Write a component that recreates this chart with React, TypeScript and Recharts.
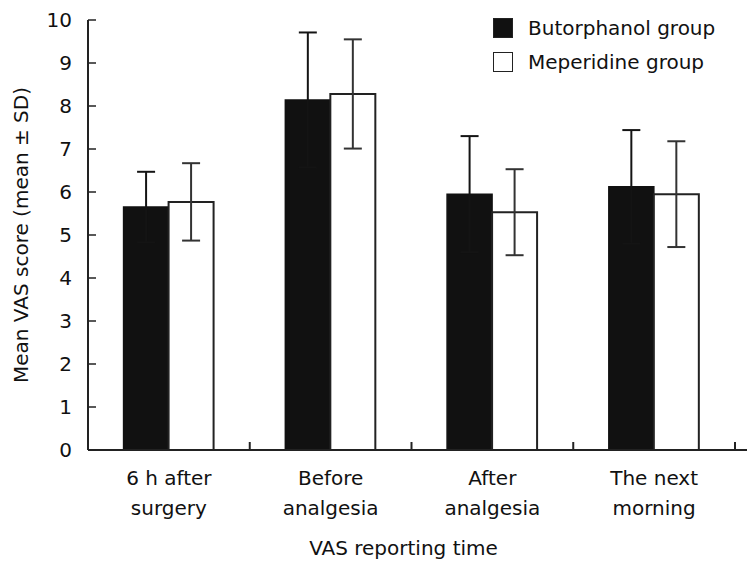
import { BarChart, Bar, XAxis, YAxis, ErrorBar, Legend } from "recharts";

// VAS reporting time points
const timePoints = [
  "6 h after\nsurgery",
  "Before\nanalgesia",
  "After\nanalgesia",
  "The next\nmorning",
];

// mean VAS and SD per group
const butorphanolMean = [5.65, 8.14, 5.95, 6.12];
const butorphanolSD = [0.82, 1.57, 1.35, 1.32];
const meperidineMean = [5.77, 8.28, 5.53, 5.95];
const meperidineSD = [0.9, 1.27, 1.0, 1.23];

const yTicks = [0, 1, 2, 3, 4, 5, 6, 7, 8, 9, 10];

const data = timePoints.map((t, i) => ({
  time: t,
  butorphanol: butorphanolMean[i],
  butorphanolSD: butorphanolSD[i],
  meperidine: meperidineMean[i],
  meperidineSD: meperidineSD[i],
}));

const FONT = "'DejaVu Sans', Verdana, sans-serif";
const INK = "#222";
const W = 750;
const H = 567;
const LEFT = 88;
const RIGHT_PAD = 12;
const PLOT_RIGHT = 747;
const HALF_BAND = (PLOT_RIGHT - RIGHT_PAD - LEFT) / timePoints.length / 2;

const XTick = (props: any) => {
  const { x, y, payload } = props;
  const lines = String(payload.value).split("\n");
  return (
    <g>
      <line
        x1={x + HALF_BAND}
        x2={x + HALF_BAND}
        y1={y}
        y2={y - 8}
        stroke={INK}
        strokeWidth={2}
      />
      <text
        x={x}
        y={y}
        textAnchor="middle"
        fontFamily={FONT}
        fontSize={20}
        fill="#111"
      >
        {lines.map((l, i) => (
          <tspan key={i} x={x} y={y + 35 + i * 30}>
            {l}
          </tspan>
        ))}
      </text>
    </g>
  );
};

const YLabel = (props: any) => {
  const { viewBox } = props;
  const cx = viewBox.x + 21;
  const cy = viewBox.y + viewBox.height / 2;
  return (
    <text
      x={cx}
      y={cy}
      transform={`rotate(-90, ${cx}, ${cy})`}
      textAnchor="middle"
      dominantBaseline="central"
      fontFamily={FONT}
      fontSize={20}
      fill="#111"
    >
      Mean VAS score (mean ± SD)
    </text>
  );
};

const XLabel = (props: any) => {
  const { viewBox } = props;
  return (
    <text
      x={viewBox.x + viewBox.width / 2 - 14}
      y={viewBox.y + 105}
      textAnchor="middle"
      fontFamily={FONT}
      fontSize={20}
      fill="#111"
    >
      VAS reporting time
    </text>
  );
};

const LegendBox = (props: any) => {
  const { payload } = props;
  return (
    <div style={{ fontFamily: FONT, fontSize: 20, color: "#111" }}>
      {(payload || []).map((p: any, i: number) => (
        <div
          key={i}
          style={{ display: "flex", alignItems: "center", height: 34 }}
        >
          <span
            style={{
              display: "inline-block",
              width: 18,
              height: 18,
              background: p.color,
              border: `1.5px solid ${INK}`,
              marginRight: 15,
            }}
          />
          {p.value}
        </div>
      ))}
    </div>
  );
};

export default function App() {
  return (
    <div style={{ position: "absolute", left: 0, top: 0, background: "#fff" }}>
      <BarChart
        width={W}
        height={H}
        data={data}
        margin={{ top: 20, right: W - PLOT_RIGHT, bottom: 0, left: 0 }}
        barCategoryGap="22%"
        barGap={0}
      >
        <XAxis
          dataKey="time"
          height={117}
          interval={0}
          tickLine={false}
          tickSize={0}
          tickMargin={0}
          tick={<XTick />}
          padding={{ left: 0, right: RIGHT_PAD }}
          axisLine={{ stroke: INK, strokeWidth: 2 }}
          label={<XLabel />}
        />
        <YAxis
          width={LEFT}
          domain={[0, 10]}
          ticks={yTicks}
          interval={0}
          tickSize={-8}
          tickMargin={24}
          axisLine={{ stroke: INK, strokeWidth: 2 }}
          tickLine={{ stroke: INK, strokeWidth: 1.5 }}
          tick={{ fontFamily: FONT, fontSize: 20, fill: "#111" }}
          label={<YLabel />}
        />
        <Legend
          layout="vertical"
          verticalAlign="middle"
          align="center"
          content={<LegendBox />}
          wrapperStyle={{ top: 11, left: 493, width: 250 }}
        />
        <Bar
          dataKey="butorphanol"
          name="Butorphanol group"
          fill="#111"
          stroke="#111"
          strokeWidth={1.5}
          isAnimationActive={false}
        >
          <ErrorBar
            dataKey="butorphanolSD"
            width={9}
            stroke="#141414"
            strokeWidth={2}
          />
        </Bar>
        <Bar
          dataKey="meperidine"
          name="Meperidine group"
          fill="#fff"
          stroke={INK}
          strokeWidth={2}
          isAnimationActive={false}
        >
          <ErrorBar
            dataKey="meperidineSD"
            width={9}
            stroke="#333"
            strokeWidth={2}
          />
        </Bar>
      </BarChart>
    </div>
  );
}
